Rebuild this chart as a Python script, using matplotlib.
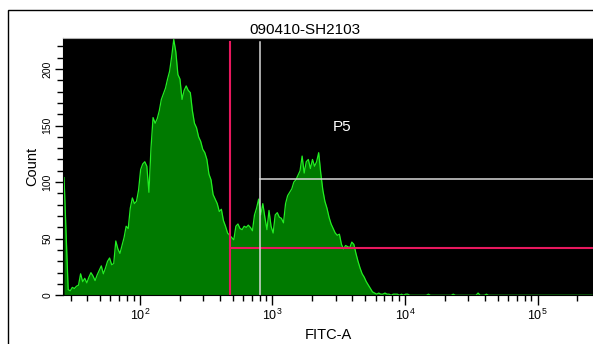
import numpy as np
import matplotlib.pyplot as plt
from matplotlib.patches import Rectangle
from matplotlib.ticker import LogLocator, MultipleLocator, NullFormatter

plt.rcParams['font.family'] = ['Liberation Sans', 'DejaVu Sans']
plt.rcParams['mathtext.fontset'] = 'custom'
plt.rcParams['mathtext.rm'] = 'Liberation Sans'
plt.rcParams['mathtext.it'] = 'Liberation Sans:italic'
plt.rcParams['mathtext.bf'] = 'Liberation Sans:bold'

# FITC-A histogram, 256 log-spaced channels over the display range
x_min, x_max = 26.3, 262144
n_bins = 256

fitc_counts = [
    104, 55, 5, 4, 7, 6, 8, 9, 19, 12,
    15, 11, 16, 20, 17, 13, 18, 22, 26, 19,
    24, 30, 33, 27, 28, 48, 41, 37, 44, 51,
    61, 59, 77, 86, 81, 83, 93, 111, 116, 118,
    114, 91, 130, 157, 152, 156, 163, 173, 178, 183,
    191, 198, 211, 226, 215, 195, 191, 173, 181, 185,
    181, 179, 163, 152, 148, 140, 136, 129, 126, 120,
    107, 102, 89, 85, 81, 74, 76, 66, 61, 55,
    53, 51, 49, 61, 63, 59, 58, 61, 60, 62,
    60, 57, 71, 77, 85, 71, 81, 69, 58, 75,
    61, 55, 71, 73, 69, 68, 64, 81, 88, 91,
    94, 100, 102, 106, 110, 123, 108, 118, 120, 112,
    120, 114, 118, 126, 108, 93, 83, 77, 69, 63,
    59, 55, 53, 54, 45, 41, 44, 43, 42, 47,
    45, 37, 30, 24, 19, 16, 12, 9, 6, 3,
    2, 1, 2, 1, 1, 2, 1, 1, 0, 1,
    1, 1, 0, 1, 0, 1,
]
# scattered events in the high channels
tail_bins = [166, 176, 188, 200, 204]
tail_counts = [1, 1, 1, 2, 1]

# gates
gate_top = 224
neg_x, neg_y = 477, 42      # magenta marker
p5_x, p5_y = 802, 102.5     # P5 (white)
p5_label = (3330, 149)

counts = np.zeros(n_bins)
counts[:len(fitc_counts)] = fitc_counts
counts[tail_bins] = tail_counts
edges = np.logspace(np.log10(x_min), np.log10(x_max), n_bins + 1)
centers = np.sqrt(edges[:-1] * edges[1:])

fig = plt.figure(figsize=(5.93, 3.44), dpi=100)
ax = fig.add_axes([63 / 593, 48.7 / 344, 530 / 593, 257.3 / 344])
ax.set_facecolor('black')

ax.fill_between(centers, counts, 0, color='#007a00', lw=0)
ax.plot(centers, counts, color='#22ee22', lw=0.9)

pink = '#e8185e'
ax.plot([neg_x, neg_x], [0, gate_top], color=pink, lw=1.5)
ax.plot([neg_x, x_max * 2], [neg_y, neg_y], color=pink, lw=1.5)
ax.plot([p5_x, p5_x], [0, gate_top], color='#d8d8d8', lw=1.1)
ax.plot([p5_x, x_max * 2], [p5_y, p5_y], color='#d8d8d8', lw=1.1)
ax.text(*p5_label, 'P5', color='white', fontsize=11, ha='center', va='center')

ax.set_xscale('log')
ax.set_xlim(x_min, x_max)
ax.set_ylim(0, 227.3)
ax.xaxis.set_major_locator(LogLocator(base=10, numticks=10))
ax.xaxis.set_minor_locator(LogLocator(base=10, subs=np.arange(2, 10), numticks=20))
ax.xaxis.set_minor_formatter(NullFormatter())
ax.yaxis.set_major_locator(MultipleLocator(50))
ax.yaxis.set_minor_locator(MultipleLocator(10))

ax.tick_params(axis='x', which='major', length=7, width=1, labelsize=9, pad=2)
ax.tick_params(axis='x', which='minor', length=4.5, width=1)
ax.tick_params(axis='y', which='major', length=6, width=1, labelsize=7.5,
               pad=1.5, labelrotation=90)
ax.tick_params(axis='y', which='minor', length=4, width=1)
for lbl in ax.get_yticklabels():
    lbl.set_va('center')

for side in ('left', 'bottom', 'right'):
    ax.spines[side].set_color('black')
ax.spines['top'].set_color('#b0b0b0')

fig.text(305 / 593, 1 - 30 / 344, '090410-SH2103', ha='center', va='center', fontsize=11)
fig.text(32 / 593, 1 - 166 / 344, 'Count', rotation=90, ha='center', va='center', fontsize=10.5)
fig.text(328 / 593, 1 - 335 / 344, 'FITC-A', ha='center', va='center', fontsize=10.5)

fig.add_artist(Rectangle((8 / 593, -0.05), 1.2, 1 - 10 / 344 + 0.05, fill=False,
                         edgecolor='black', lw=1, transform=fig.transFigure))

fig.savefig('out.png', dpi=100)
